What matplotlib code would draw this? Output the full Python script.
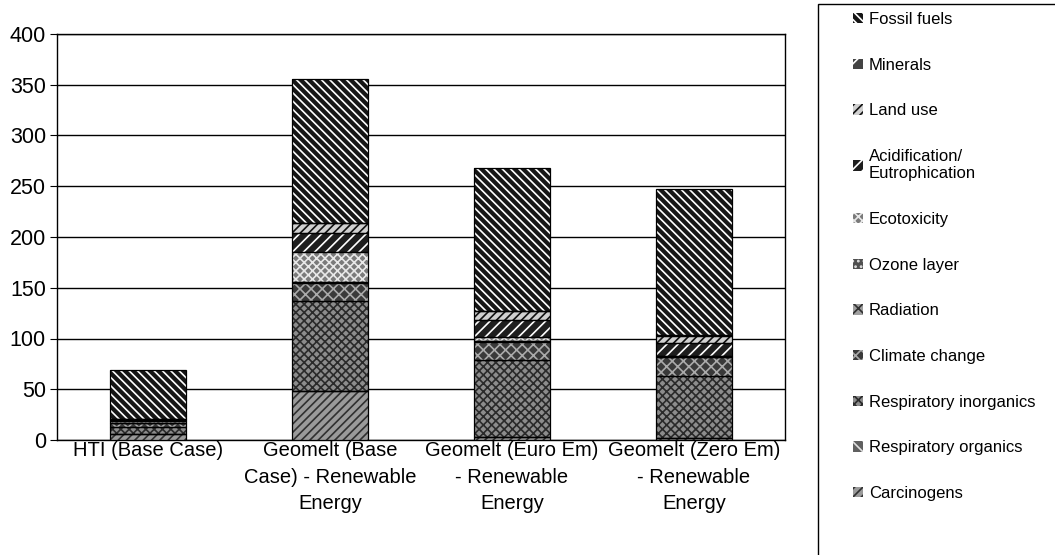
import matplotlib
matplotlib.use("Agg")
import matplotlib.pyplot as plt
import numpy as np
from matplotlib.patches import Patch, Rectangle

plt.rcParams['font.family'] = ['Liberation Sans', 'DejaVu Sans']
plt.rcParams['hatch.linewidth'] = 1.2

categories = ["HTI (Base Case)",
              "Geomelt (Base\nCase) - Renewable\nEnergy",
              "Geomelt (Euro Em)\n- Renewable\nEnergy",
              "Geomelt (Zero Em)\n- Renewable\nEnergy"]

# series, bottom to top
series = ["Carcinogens", "Respiratory organics", "Respiratory inorganics",
          "Climate change", "Radiation", "Ozone layer", "Ecotoxicity",
          "Acidification/\nEutrophication", "Land use", "Minerals", "Fossil fuels"]

carcinogens      = [6.0, 48.0, 3.0, 2.0]
resp_organics    = [0.3, 0.5, 0.3, 0.2]
resp_inorganics  = [6.5, 88.5, 75.7, 60.8]
climate_change   = [4.0, 18.0, 18.0, 19.0]
radiation        = [0.2, 0.5, 0.3, 0.2]
ozone_layer      = [0.1, 0.2, 0.1, 0.1]
ecotoxicity      = [1.5, 29.3, 3.6, 0.7]
acidification    = [1.2, 19.0, 17.0, 13.0]
land_use         = [0.5, 9.5, 9.0, 6.5]
minerals         = [0.2, 0.5, 0.5, 0.5]
fossil_fuels     = [48.0, 142.0, 140.5, 144.0]

values = [carcinogens, resp_organics, resp_inorganics, climate_change, radiation,
          ozone_layer, ecotoxicity, acidification, land_use, minerals, fossil_fuels]

# (facecolor, hatchcolor, hatch)
styles = [
    ("#9a9a9a", "#303030", "////"),   # Carcinogens
    ("#606060", "#e0e0e0", "\\\\\\"),  # Resp organics
    ("#8c8c8c", "#2a2a2a", "xxxx"),   # Resp inorganics
    ("#3a3a3a", "#aaaaaa", "xxx"),    # Climate change
    ("#a0a0a0", "#303030", "xx"),     # Radiation
    ("#505050", "#dddddd", "..."),    # Ozone layer
    ("#7a7a7a", "#e8e8e8", "xxxx"),   # Ecotoxicity
    ("#1e1e1e", "#ffffff", "///"),    # Acidification
    ("#d0d0d0", "#111111", "////"),   # Land use
    ("#444444", "#ffffff", "//"),     # Minerals
    ("#151515", "#ffffff", "\\\\\\\\"),  # Fossil fuels
]

fig = plt.figure(figsize=(10.55, 5.55), dpi=100)
ax = fig.add_axes([57/1055, 1-440/555, (785-57)/1055, (440-34)/555])

x = np.arange(len(categories))
width = 0.42
bottom = np.zeros(len(categories))
handles = []
for name, vals, (fc, hc, h) in zip(series, values, styles):
    vals = np.array(vals)
    ax.bar(x, vals, width, bottom=bottom, color=fc, edgecolor=hc, hatch=h,
           linewidth=0, zorder=3)
    ax.bar(x, vals, width, bottom=bottom, fill=False, edgecolor="black",
           linewidth=0.9, zorder=4)
    bottom += vals
    handles.append(Patch(facecolor=fc, edgecolor=hc, hatch=h, linewidth=0, label=name))

ax.set_xlim(-0.5, len(categories) - 0.5)
ax.set_ylim(0, 400)
ax.set_yticks(np.arange(0, 401, 50))
ax.yaxis.grid(True, color="black", linewidth=1.0, zorder=0)
ax.set_axisbelow(True)
ax.set_xticks(x)
ax.set_xticklabels(categories, fontsize=14.5, linespacing=1.5)
ax.tick_params(axis="y", labelsize=15.5, length=5, color="black", pad=3)
ax.tick_params(axis="x", length=0, pad=1)
for s in ax.spines.values():
    s.set_color("black")
    s.set_linewidth(1.0)

# legend box
fig.patches.append(Rectangle((818/1055, -0.05), 0.5, 1.05 - 4/555, transform=fig.transFigure,
                             fill=False, edgecolor="black", linewidth=1.0))
leg = fig.legend(handles[::-1], [s for s in series[::-1]], loc="upper left",
                 bbox_to_anchor=(838/1055, 1 + 3/555), frameon=False,
                 fontsize=12, labelspacing=1.84, handlelength=0.6, handleheight=0.6,
                 handletextpad=0.35)

fig.savefig("out.png", dpi=100)
